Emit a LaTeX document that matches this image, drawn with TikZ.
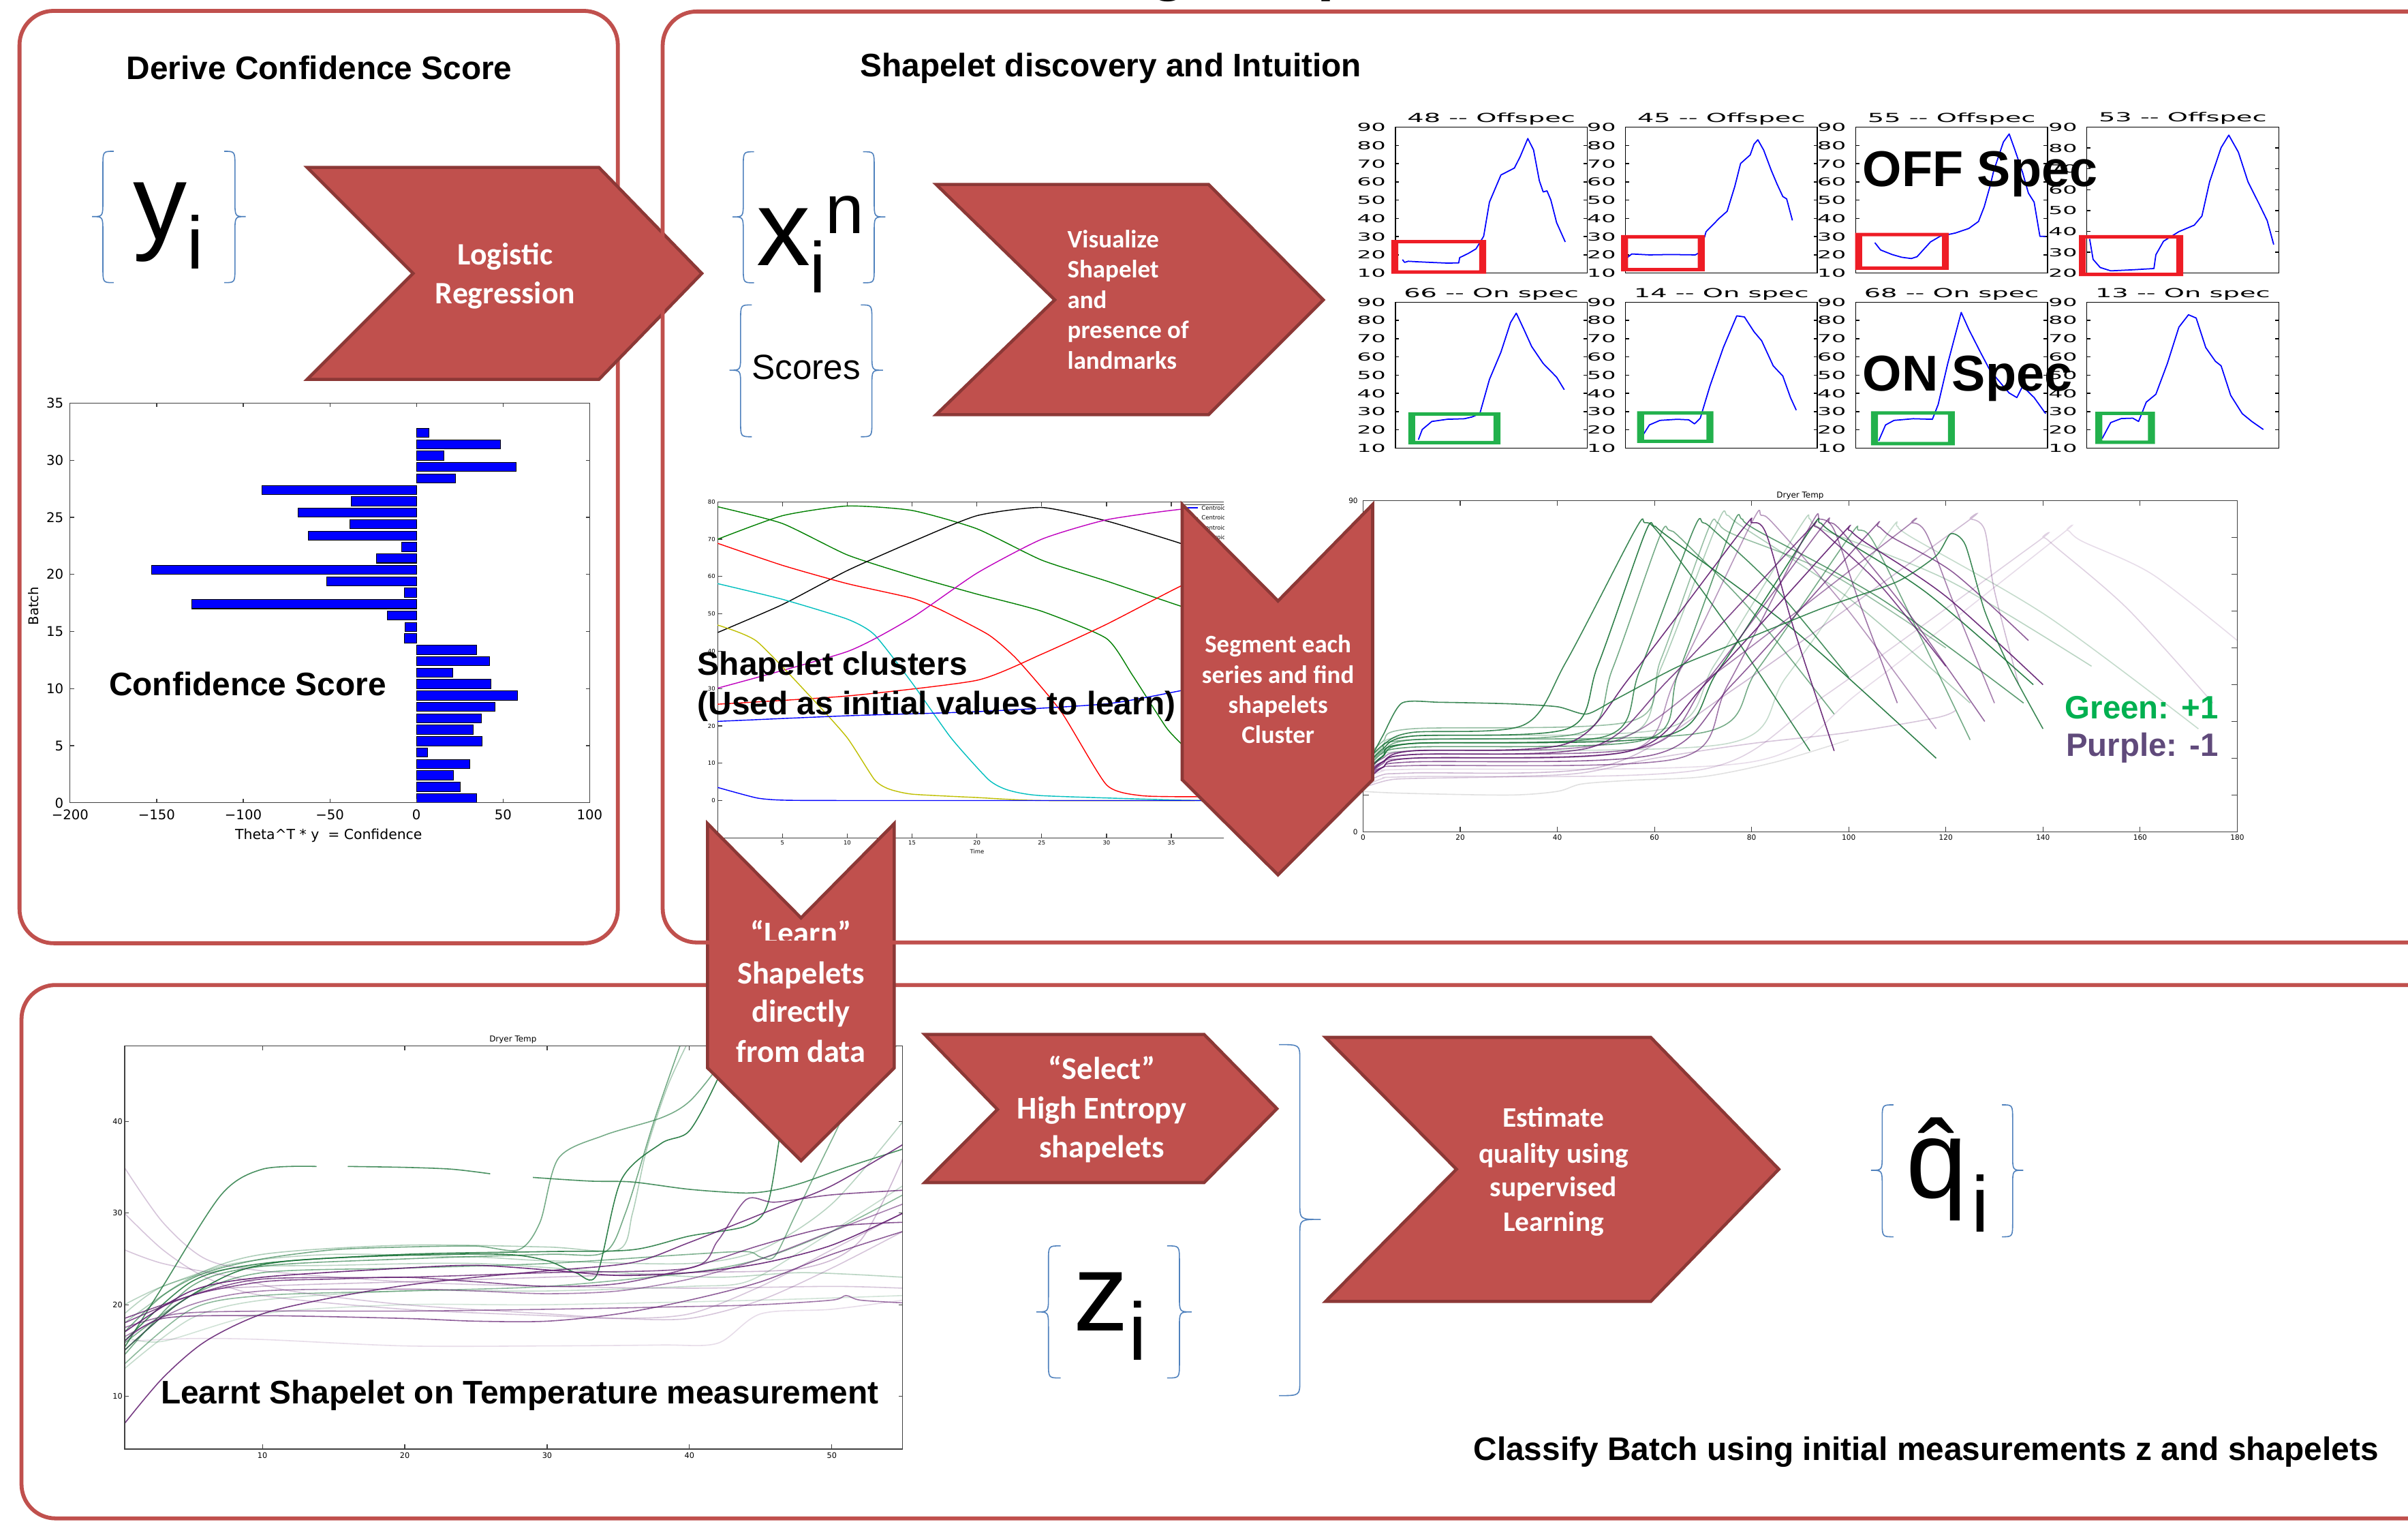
\documentclass[tikz,border=0pt]{standalone}
\usepackage{fontspec}
\setmainfont{Liberation Sans}
\newfontfamily\calib{Carlito}
\newfontfamily\dejav{DejaVu Sans}
\definecolor{panelred}{HTML}{C0504D}
\definecolor{chevline}{HTML}{8C3836}
\definecolor{bracebl}{HTML}{4F81BD}
\definecolor{grntxt}{HTML}{00B050}
\definecolor{purtxt}{HTML}{604A7B}
\definecolor{dg}{RGB}{25,115,55}
\definecolor{dp}{RGB}{95,25,110}
\definecolor{rectred}{HTML}{EE1C25}
\definecolor{rectgrn}{HTML}{22B14C}
\definecolor{mplg}{rgb}{0,0.5,0}
\definecolor{mplc}{rgb}{0,0.75,0.75}
\definecolor{mplm}{rgb}{0.75,0,0.75}
\definecolor{mply}{rgb}{0.75,0.75,0}
\newcommand\fsz[1]{\fontsize{#1pt}{#1pt}\selectfont}
\newcommand\CurlyB[5]{%
 \draw[bracestyle] (#2,#3) .. controls ({(#1+#2)/2},#3) .. ({(#1+#2)/2},{#3+10})
  -- ({(#1+#2)/2},{#4-10}) .. controls ({(#1+#2)/2},#4) .. (#1,#4)
  .. controls ({(#1+#2)/2},#4) .. ({(#1+#2)/2},{#4+10})
  -- ({(#1+#2)/2},{#5-10}) .. controls ({(#1+#2)/2},#5) .. (#2,#5);}
\newcommand\dcurve[9]{\draw[#1,opacity=#2,line width=0.45pt] plot[smooth,tension=0.5] coordinates {(0,#3) (4,{(#3+#4)/2+1}) (10,#4) (#5,{#4+2}) ({#5+(#6-#5)*0.35},{#4+2+(#7-#4)*0.3}) ({#6-2},{#7-2}) (#6,#7) ({#6+3},{#7-3}) ({(#6+#8)/2},{(#7+#9)/2+3}) (#8,#9)};}
\newcommand\frect[5]{\fill[#1,even odd rule] (#2,#3) rectangle (#4,#5) ({#2+4.5},{#3+2.2}) rectangle ({#4-4.5},{#5-2.2});}
\newcommand\spframe[3]{%
 \draw[spax] (0,#1) rectangle (1,90);
 \foreach \v in {#3} {\draw[spax] (0,\v) -- (0.02,\v); \draw[spax] (1,\v) -- (0.98,\v); \node[sptick] at (-0.045,\v) {\v};}
 \node[sptitle] at (0.5,92.5) {#2};}
\tikzset{
 panel/.style={draw=panelred, line width=1.65pt, rounded corners=5mm},
 chev/.style={fill=panelred, draw=chevline, line width=1.3pt, line join=miter},
 chevtxt/.style={text=white, inner sep=0pt, anchor=base},
 bracestyle/.style={draw=bracebl, line width=0.45pt},
 bigtxt/.style={inner sep=0pt, font=\bfseries\fsz{13.6}},
 plax/.style={draw=black!75, line width=0.35pt},
 barst/.style={fill=blue, draw=black, line width=0.3pt},
 btick/.style={inner sep=0pt, font=\dejav\fsz{5.6}},
 spax/.style={draw=black, line width=0.4pt},
 sptick/.style={font=\dejav\fsz{4.6}, anchor=east, inner sep=0pt, xscale=2.05},
 sptitle/.style={font=\dejav\fsz{5.2}, anchor=base, inner sep=0pt, xscale=2.1},
 spcurve/.style={draw=blue, line width=0.5pt, line join=round},
 cltick/.style={font=\dejav\fsz{2.4}, inner sep=0pt},
 dtick/.style={font=\dejav\fsz{3}, inner sep=0pt},
 dtitle/.style={font=\dejav\fsz{3.4}, inner sep=0pt, anchor=base},
 clcurve/.style={line width=0.4pt},
 lc/.style={line width=0.45pt}
}
\begin{document}
\begin{tikzpicture}[x=0.22538mm,y=-0.22538mm]
\useasboundingbox (0,0) rectangle (1568,1000.5);
\clip (0,0) rectangle (1568,1000.5);
\fill[white] (0,0) rectangle (1568,1000.5);

% panels 1 and 3
\draw[panel] (12.7,7.1) rectangle (402.3,614);
\draw[panel] (14,641.2) rectangle (1620,988.4);

% clipped poster title fragment
\node[anchor=base west, inner sep=0pt, font=\bfseries\fsz{25.7}] (postertitle) at (603.8,-7.4) {Learning Shapelets};

% titles
\node[bigtxt, anchor=base west] (t1) at (82.1,51.8) {Derive Confidence Score};
\node[bigtxt, anchor=base west] (t2) at (559.8,50) {Shapelet discovery and Intuition};

% ---------------- bar chart
\begin{scope}[shift={(271.2,522.6)}, x=0.25423mm, y=1.6755mm]
 \foreach \i/\v in {0/34.6,1/25.4,2/21.5,3/30.7,4/6.5,5/37.8,6/32.8,7/37.4,8/45.2,9/58.2,10/43,11/21,12/42.2,13/34.6,14/-7,15/-6.5,16/-17,17/-129.7,18/-7,19/-52,20/-153,21/-23,22/-8.5,23/-62.3,24/-38.5,25/-68.5,26/-37.6,27/-89.3,28/22.4,29/57.7,30/16,31/48.5,32/7}
   \draw[barst] (0,\i) rectangle (\v,{\i+0.8});
 \draw[plax] (-200,0) rectangle (100,35);
 \foreach \t in {-150,-100,-50,0,50} {\draw[plax] (\t,0) -- (\t,0.35); \draw[plax] (\t,35) -- (\t,34.65);}
 \foreach \v in {5,10,...,30} {\draw[plax] (-200,\v) -- (-197.7,\v); \draw[plax] (100,\v) -- (97.7,\v);}
 \foreach \t/\l in {-200/−200,-150/−150,-100/−100,-50/−50,0/0,50/50,100/100}
   \node[btick] (bx\t) at (\t,-1.02) {\l};
 \foreach \v in {0,5,...,35}
   \node[btick, anchor=east] (by\v) at (-203.5,\v) {\v};
\end{scope}
\node[btick, rotate=90] (batchlbl) at (22,394.5) {Batch};
\node[btick, font=\dejav\fsz{5.8}] (thetalbl) at (214,543.8) {Theta\^{}T * y \ = Confidence};
\node[bigtxt, anchor=base west] (confscore) at (70.8,452.9) {Confidence Score};

% ---------------- small plots
\begin{scope}[shift={(908.6,189.675)}, x=28.17mm, y=0.26764mm]
 \spframe{10}{48 -- Offspec}{10,20,...,90}
 \draw[spcurve] plot coordinates {(0.037,17.4) (0.048,15.9) (0.067,16.5) (0.12,16.2) (0.18,15.9) (0.27,15.5) (0.33,15.6) (0.335,18.5) (0.38,20.8) (0.42,23.3) (0.46,30.2) (0.49,48.9) (0.55,63.8) (0.62,67.6) (0.65,73.8) (0.69,83.8) (0.72,77.5) (0.75,60.7) (0.77,54.5) (0.79,55.1) (0.81,50.1) (0.84,37.7) (0.885,27.1)};
\end{scope}
\begin{scope}[shift={(1058.4,189.675)}, x=28.17mm, y=0.26764mm]
 \spframe{10}{45 -- Offspec}{10,20,...,90}
 \draw[spcurve] plot coordinates {(0,17.7) (0.033,20.5) (0.125,20) (0.235,20.2) (0.364,20) (0.39,21.5) (0.42,32.7) (0.49,40.2) (0.53,43.9) (0.57,57.6) (0.60,70.1) (0.65,74.8) (0.67,80.7) (0.69,83.1) (0.72,77.5) (0.76,66.3) (0.79,58.8) (0.82,52) (0.84,50.7) (0.87,38.9)};
\end{scope}
\begin{scope}[shift={(1208.3,189.675)}, x=28.17mm, y=0.26764mm]
 \spframe{10}{55 -- Offspec}{10,20,...,90}
 \draw[spcurve] plot coordinates {(0.1,26.7) (0.13,22.7) (0.19,20.2) (0.24,18.7) (0.29,18) (0.32,19) (0.39,27.1) (0.44,30.2) (0.52,32) (0.59,34.5) (0.64,38.3) (0.67,46.4) (0.7,57.6) (0.72,66.3) (0.77,81.9) (0.8,86.3) (0.83,77.5) (0.87,65.1) (0.9,53.9) (0.93,48.9) (0.96,30.2) (0.99,30.2)};
\end{scope}
\begin{scope}[shift={(1358.8,204.94)}, x=28.17mm, y=0.30587mm]
 \spframe{20}{53 -- Offspec}{20,30,...,90}
 \draw[spcurve] plot coordinates {(0.015,36.4) (0.033,26.6) (0.07,22.7) (0.125,21.1) (0.24,21.6) (0.35,22.2) (0.36,28.8) (0.4,35.3) (0.48,39.9) (0.56,43) (0.6,47.4) (0.64,63.8) (0.7,80.2) (0.74,86.2) (0.79,78) (0.84,63.8) (0.9,52.8) (0.94,45.2) (0.974,33.7)};
\end{scope}
\begin{scope}[shift={(908.6,303.575)}, x=28.17mm, y=0.26764mm]
 \spframe{10}{66 -- On spec}{10,20,...,90}
 \draw[spcurve] plot coordinates {(0.12,14.6) (0.14,20.2) (0.19,24.6) (0.27,25.8) (0.36,26.1) (0.4,27.1) (0.44,28.9) (0.49,47.6) (0.55,62.6) (0.6,78.8) (0.63,84) (0.67,75) (0.71,65.7) (0.77,56.4) (0.84,48.9) (0.88,42)};
\end{scope}
\begin{scope}[shift={(1058.4,303.575)}, x=28.17mm, y=0.26764mm]
 \spframe{10}{14 -- On spec}{10,20,...,90}
 \draw[spcurve] plot coordinates {(0.08,15.2) (0.125,22.7) (0.18,25.2) (0.27,25.8) (0.33,25.5) (0.36,23.3) (0.39,26.4) (0.44,43.9) (0.51,65.1) (0.58,82.5) (0.62,81.9) (0.67,73.8) (0.71,68.8) (0.77,55.1) (0.82,49.5) (0.86,37.7) (0.89,30.8)};
\end{scope}
\begin{scope}[shift={(1208.3,303.575)}, x=28.17mm, y=0.26764mm]
 \spframe{10}{68 -- On spec}{10,20,...,90}
 \draw[spcurve] plot coordinates {(0.12,14) (0.156,22.7) (0.2,25.2) (0.3,26.1) (0.4,25.8) (0.43,33.9) (0.48,56.4) (0.55,84.4) (0.59,75) (0.65,62.6) (0.7,52.6) (0.76,45.1) (0.8,40.2) (0.84,37.7) (0.87,43.9) (0.93,37.7) (0.99,28.9)};
\end{scope}
\begin{scope}[shift={(1358.8,303.575)}, x=28.17mm, y=0.26764mm]
 \spframe{10}{13 -- On spec}{10,20,...,90}
 \draw[spcurve] plot coordinates {(0.08,15.2) (0.125,24) (0.18,26.2) (0.24,26.4) (0.27,24.6) (0.31,35.2) (0.36,39.5) (0.42,56.4) (0.48,76.3) (0.53,83.1) (0.57,81.3) (0.62,65.1) (0.67,57.6) (0.7,55.1) (0.75,38.9) (0.81,28.9) (0.86,24.6) (0.92,20.2)};
\end{scope}
\frect{rectred}{906}{156.2}{967.7}{178.2}
\frect{rectred}{1055.6}{153}{1110}{176.6}
\frect{rectred}{1208}{151.6}{1269}{175.6}
\frect{rectred}{1353.7}{153}{1421.6}{179.7}
\frect{rectgrn}{917}{268.4}{977}{289.2}
\frect{rectgrn}{1066}{267.7}{1115.7}{288.4}
\frect{rectgrn}{1218.3}{267.7}{1272.9}{289.9}
\frect{rectgrn}{1364.4}{268}{1403.2}{289}
\node[anchor=base west, inner sep=0pt, font=\bfseries\fsz{21}] (offspec) at (1212.6,121.3) {OFF Spec};
\node[anchor=base west, inner sep=0pt, font=\bfseries\fsz{21}] (onspec) at (1212.6,254.4) {ON Spec};

% ---------------- cluster plot
\begin{scope}[shift={(467.3,521.1)}, x=1.9022mm, y=0.54767mm]
 \begin{scope}
  \clip (0,-10) rectangle (39.06,81);
  \draw[plax] (0,-10) rectangle (45,80);
  \foreach \t in {5,10,...,35} {\draw[plax] (\t,-10) -- (\t,-8.8); \draw[plax] (\t,80) -- (\t,78.8);}
  \foreach \v in {0,10,...,70} \draw[plax] (0,\v) -- (0.35,\v);
  \draw[clcurve, mplg] plot[smooth,tension=0.35] coordinates {(0,78.7) (5,74.2) (10,65.8) (15,60.2) (20,55.3) (25,50.7) (30,43.4) (32,33.6) (34.6,19.6) (35.9,14.7) (37.5,8) (39.5,3)};
  \draw[clcurve, mplg] plot[smooth,tension=0.35] coordinates {(0,70) (5,76.3) (10,78.9) (15,77.7) (20,72.8) (25,64.4) (30,58.8) (35.7,52.1) (39.5,48)};
  \draw[clcurve, black] plot[smooth,tension=0.35] coordinates {(0,45) (5,52.5) (10,61.6) (15,69.3) (20,76.3) (25,78.5) (30,74.9) (35.7,68.9) (39.5,64)};
  \draw[clcurve, red] plot[smooth,tension=0.35] coordinates {(0,68.9) (5,63) (10,58.1) (15,54.2) (17.2,51.1) (20.9,44.4) (23.1,37.8) (26.5,23.8) (30,4.2) (32.7,1.3) (37.2,1) (39.5,1)};
  \draw[clcurve, red] plot[smooth,tension=0.35] coordinates {(0,25.8) (10,28) (20,32.2) (25,39.2) (30,47.2) (35.7,57.4) (39.5,63)};
  \draw[clcurve, mplc] plot[smooth,tension=0.35] coordinates {(0,58.1) (5,53.9) (10,48.6) (12.1,44.4) (15,31.5) (18,16.8) (20.9,5.6) (22.4,2.8) (25,1.3) (35.7,0.1) (39.5,0)};
  \draw[clcurve, mplm] plot[smooth,tension=0.35] coordinates {(0,30.1) (10,39.9) (15,49) (20,60.9) (25,70) (30,75.2) (35.7,78) (39.5,78.5)};
  \draw[clcurve, mply] plot[smooth,tension=0.35] coordinates {(0,47) (3,42.7) (7.3,27.3) (10,16.8) (12.1,5.6) (13.2,3.1) (15,1.7) (20,0.8) (25,0) (39.5,0)};
  \draw[clcurve, blue] plot[smooth,tension=0.35] coordinates {(0,3.5) (3,0.7) (5,0.1) (10,0) (39.5,0)};
  \draw[clcurve, blue] plot[smooth,tension=0.35] coordinates {(0,21.2) (10,22.7) (20,23.8) (30,25.9) (35.7,29.4) (39.5,32)};
  \draw[plax, fill=white] (35.78,79.3) rectangle (45,51.5);
  \foreach \c/\yy in {blue/78.4, mplg/75.8, red/73.1, mplc/70.5, mplm/67.9, mply/65.3, black/62.7} {
    \draw[clcurve, \c] (35.95,\yy) -- (37.05,\yy);
    \node[cltick, anchor=west] at (37.3,\yy) {Centroid};}
 \end{scope}
 \foreach \v in {0,10,...,80} \node[cltick, anchor=east] (cly\v) at (-0.15,\v) {\v};
 \node[cltick, anchor=east] (clym10) at (-0.15,-10) {-10};
 \foreach \t in {5,10,...,35} \node[cltick] (clx\t) at (\t,-11.3) {\t};
 \node[cltick] (cltime) at (20.02,-13.7) {Time};
\end{scope}
\node[bigtxt, anchor=base west] (clus1) at (454,439.6) {Shapelet clusters};
\node[bigtxt, anchor=base west] (clus2) at (454,465.4) {(Used as initial values to learn)};

% ---------------- dryer temp (right)
\begin{scope}[shift={(887.6,541.5)}, x=0.7127mm, y=0.5399mm]
 \begin{scope}
  \clip (0,0) rectangle (180,90);
  \dcurve{dg}{0.85}{18}{27}{33}{58}{84}{92}{22}
  \dcurve{dg}{0.9}{17}{26}{42}{60}{83}{118}{20}
  \dcurve{dg}{0.6}{16}{25}{45}{63}{82}{97}{32}
  \dcurve{dg}{0.8}{15}{24}{50}{70}{84}{100}{42}
  \dcurve{dg}{0.45}{19}{28}{55}{73}{84}{120}{50}
  \dcurve{dg}{0.7}{16}{23}{58}{78}{85}{136}{35}
  \dcurve{dg}{0.9}{15}{24}{62}{94}{84}{138}{40}
  \dcurve{dg}{0.6}{17}{25}{70}{102}{82}{125}{25}
  \dcurve{dg}{0.3}{18}{26}{62}{92}{85}{150}{45}
  \dcurve{dg}{0.25}{16}{22}{75}{110}{83}{172}{28}
  \dcurve{dg}{0.35}{17}{24}{54}{75}{86}{125}{35}
  \dcurve{dp}{0.9}{14}{22}{42}{80}{84}{97}{22}
  \dcurve{dp}{0.8}{15}{21}{47}{93}{83}{120}{45}
  \dcurve{dp}{0.9}{13}{20}{55}{100}{82}{140}{40}
  \dcurve{dp}{0.7}{14}{19}{60}{106}{83}{137}{52}
  \dcurve{dp}{0.55}{16}{22}{50}{113}{84}{130}{35}
  \dcurve{dp}{0.6}{15}{18}{65}{94}{85}{110}{35}
  \dcurve{dp}{0.3}{13}{16}{50}{125}{85}{135}{40}
  \dcurve{dp}{0.2}{12}{15}{70}{140}{80}{175}{35}
  \dcurve{dp}{0.45}{16}{20}{55}{82}{86}{118}{28}
  \dcurve{dp}{0.15}{14}{17}{80}{145}{82}{180}{52}
  \dcurve{dp}{0.65}{14}{21}{58}{96}{84}{128}{30}
  \draw[dg, opacity=0.85, line width=0.45pt] plot[smooth,tension=0.4] coordinates {(0,16) (4,26) (8,35) (16,35.2) (30,34.8) (40,34) (46,32) (52,36) (65,45) (80,53) (95,61) (110,68) (118,75) (121,81) (124,78) (128,60) (133,45) (140,28)};
  \draw[dp, opacity=0.25, line width=0.45pt] plot[smooth,tension=0.5] coordinates {(0,12) (5,14) (10,14.5) (30,15) (45,16) (60,20) (80,24) (100,27) (118,31) (122,33)};
  \draw[black, opacity=0.12, line width=0.45pt] plot[smooth,tension=0.5] coordinates {(0,11) (8,10.5) (30,10) (40,11) (45,13) (55,14) (70,15) (85,19) (100,25)};
 \end{scope}
 \draw[plax] (0,0) rectangle (180,90);
 \foreach \t in {20,40,...,160} {\draw[plax] (\t,0) -- (\t,1.3); \draw[plax] (\t,90) -- (\t,88.7);}
 \foreach \v in {10,20,...,80} {\draw[plax] (0,\v) -- (1.2,\v); \draw[plax] (180,\v) -- (178.8,\v);}
 \foreach \t in {0,20,...,180} \node[dtick] (drx\t) at (\t,-1.6) {\t};
 \foreach \v in {0,10,...,90} \node[dtick, anchor=east] (dry\v) at (-1,\v) {\v};
 \node[dtitle] (dryerR) at (90,90.8) {Dryer Temp};
\end{scope}
\node[anchor=base east, inner sep=0pt, font=\bfseries\fsz{13.5}, text=grntxt] (greenlbl) at (1444.7,467.7) {Green: +1};
\node[anchor=base east, inner sep=0pt, font=\bfseries\fsz{13.5}, text=purtxt] (purplelbl) at (1444.7,492.3) {Purple: -1};

% ---------------- dryer temp (lower left, learnt shapelet)
\begin{scope}[shift={(78.2,968.5)}, x=2.089mm, y=1.3433mm]
 \begin{scope}
  \clip (0.32,4.23) rectangle (54.97,48.27);
  \draw[lc, dg, opacity=0.8] plot[smooth,tension=0.5] coordinates {(0.3,15.3) (3,22) (7.1,32) (10,34.8) (13.8,35.1)};
  \draw[lc, dg, opacity=0.8] plot[smooth,tension=0.5] coordinates {(16,35.1) (20,35) (23.3,34.8) (26,34.3)};
  \draw[lc, dg, opacity=0.8] plot[smooth,tension=0.5] coordinates {(29,33.9) (33,33.5) (36,33.4) (40,32.6) (43.9,32.2) (45.9,32.5) (47.9,33.3) (51,35) (55,37)};
  \draw[lc, dg, opacity=0.6] plot[smooth,tension=0.5] coordinates {(0.3,17) (3,21) (6,23.5) (10,25) (15,26) (20,26.3) (25,26.4) (28,26) (29.5,29) (30.8,36) (34,38.5) (38,40.4) (40,42.2) (42,46) (43,49)};
  \draw[lc, dg, opacity=0.9] plot[smooth,tension=0.5] coordinates {(0.3,15) (4,20) (8,23.5) (12,24.8) (20,25.4) (27,25.5) (30,24.8) (32,23.5) (33.5,23.3) (35.2,33.6) (38,37.6) (40,39) (42,44.7) (43,49)};
  \draw[lc, dg, opacity=0.85] plot[smooth,tension=0.5] coordinates {(0.3,16) (5,22.5) (10,24.5) (20,25.5) (30,25.8) (36,26) (40,27.5) (44,28.6) (45.5,31) (46.5,40) (47.5,49)};
  \draw[lc, dg, opacity=0.35] plot[smooth,tension=0.5] coordinates {(0.3,18) (5,23) (10,25.5) (20,26.5) (30,26.3) (35,26) (36,30) (37,37) (38.5,44) (40,49)};
  \draw[lc, dg, opacity=0.6] plot[smooth,tension=0.5] coordinates {(0.3,14.5) (5,22) (10,24.2) (20,25) (30,25.5) (34,25.7) (35.5,30) (37.5,40) (39.5,49)};
  \draw[lc, dg, opacity=0.55] plot[smooth,tension=0.5] coordinates {(0.3,15.8) (5,21) (10,23.5) (20,24) (30,24.5) (40,25.5) (44,25.8) (45,25.2) (46,25.3) (47.5,30) (50,38) (52,44) (55,49)};
  \draw[lc, dg, opacity=0.3] plot[smooth,tension=0.5] coordinates {(0.3,19) (3,22) (8,24) (15,24.3) (25,24.5) (35,23.5) (42,23) (48,23.5) (55,23)};
  \draw[lc, dg, opacity=0.25] plot[smooth,tension=0.5] coordinates {(0.3,13) (5,18.5) (10,20.5) (20,21.5) (30,21.5) (40,22) (44,22.5) (48,26) (52,30) (55,33)};
  \draw[lc, dg, opacity=0.5] plot[smooth,tension=0.5] coordinates {(0.3,13.5) (5,19.5) (10,21) (20,21.5) (30,22) (40,23.5) (45,25) (50,28) (55,32)};
  \draw[lc, dg, opacity=0.2] plot[smooth,tension=0.5] coordinates {(0.3,16.5) (3,16) (10,19) (20,20) (30,20) (45,20.5) (55,21)};
  \draw[lc, dg, opacity=0.3] plot[smooth,tension=0.5] coordinates {(0.3,20) (3,22) (8,24.5) (15,25.5) (25,25.2) (30,24.8) (40,24.5) (45,26) (50,31) (55,40)};
  \draw[lc, dp, opacity=0.85] plot[smooth,tension=0.5] coordinates {(0.3,7) (3,12) (6,16) (10,19) (15,20.8) (20,22.1) (25,23) (30,23.7) (36,24.6) (40,26.8) (46,30.5) (50,33) (55,37.5)};
  \draw[lc, dp, opacity=0.9] plot[smooth,tension=0.5] coordinates {(0.3,17) (5,21.5) (10,23) (20,24) (25,24.3) (30,23.8) (35,23.2) (40,23.5) (45,24.5) (50,26.5) (55,30)};
  \draw[lc, dp, opacity=0.7] plot[smooth,tension=0.5] coordinates {(0.3,16) (3,18.5) (10,18.8) (20,18.5) (25,18.2) (30,18.2) (35,19) (40,20.5) (45,22.5) (50,25.5) (55,28)};
  \draw[lc, dp, opacity=0.75] plot[smooth,tension=0.5] coordinates {(0.3,18) (5,21) (10,22.5) (15,22.8) (20,23) (25,22.5) (30,22) (35,22.3) (40,24) (45,26.5) (50,28.5) (55,29)};
  \draw[lc, dp, opacity=0.6] plot[smooth,tension=0.5] coordinates {(0.3,17.5) (4,19) (10,19.3) (20,19.3) (30,19.5) (40,19.8) (45,20) (50,20.5) (51,21) (52,20.5) (55,20.2)};
  \draw[lc, dp, opacity=0.25] plot[smooth,tension=0.5] coordinates {(0.3,35) (3,29) (6,25) (10,23.7) (20,22.5) (30,22) (40,21.8) (50,22) (55,21.8)};
  \draw[lc, dp, opacity=0.25] plot[smooth,tension=0.5] coordinates {(0.3,26) (3,24.5) (8,23) (12,21.5) (20,20) (30,19) (35,18.5) (40,18.5) (45,20.5) (50,24) (55,28)};
  \draw[lc, dp, opacity=0.75] plot[smooth,tension=0.5] coordinates {(0.3,18.5) (5,21) (10,22.8) (20,23) (30,23.5) (40,24) (42,27) (44,31.5) (46,31.2) (50,32) (55,32.5)};
  \draw[lc, dp, opacity=0.15] plot[smooth,tension=0.5] coordinates {(0.3,16) (5,16.3) (10,16.2) (20,15.5) (30,15.5) (38,15.6) (42,15.8) (45,19) (50,19.5) (55,20.5)};
  \draw[lc, dp, opacity=0.25] plot[smooth,tension=0.5] coordinates {(0.3,30) (3,26) (6,23) (10,21) (20,19.5) (30,18.8) (35,18.5) (40,19) (45,22) (50,26) (55,30)};
  \draw[lc, dp, opacity=0.55] plot[smooth,tension=0.5] coordinates {(0.3,16.5) (5,20) (10,21.5) (20,21.7) (25,21.5) (30,21.2) (35,21.5) (40,22.8) (45,25) (50,28) (55,31)};
  \draw[lc, dp, opacity=0.3] plot[smooth,tension=0.5] coordinates {(0.3,15) (5,21) (10,22) (20,22.5) (30,23) (40,23.5) (48,24) (52,27) (55,36)};
 \end{scope}
 \draw[plax] (0.32,4.23) rectangle (54.97,48.27);
 \foreach \t in {10,20,...,50} {\draw[plax] (\t,4.23) -- (\t,4.75); \draw[plax] (\t,48.27) -- (\t,47.75);}
 \foreach \v in {10,20,...,40} {\draw[plax] (0.32,\v) -- (0.6,\v); \draw[plax] (54.97,\v) -- (54.69,\v);}
 \foreach \t in {10,20,...,50} \node[dtick, font=\dejav\fsz{3.2}] (llx\t) at (\t,3.55) {\t};
 \foreach \v in {10,20,...,40} \node[dtick, font=\dejav\fsz{3.2}, anchor=east] (lly\v) at (0.2,\v) {\v};
 \node[dtitle] (dryerL) at (27.6,48.7) {Dryer Temp};
\end{scope}
\node[bigtxt, anchor=base] (learnt) at (338.5,913.9) {Learnt Shapelet on Temperature measurement};

% ---------------- braces and symbols
\CurlyB{60}{74}{98.5}{141}{184}
\CurlyB{160}{146}{98.5}{141}{184}
\node[anchor=base west, inner sep=0pt, font=\fsz{45}] (ysym) at (86.5,156) {y};
\node[anchor=base west, inner sep=0pt, font=\fsz{31}] (ysub) at (121.3,174.9) {i};

\CurlyB{477}{491}{98.8}{141.2}{184.1}
\CurlyB{576.5}{562}{98.8}{141.2}{184.1}
\node[anchor=base west, inner sep=0pt, font=\fsz{45}] (xsym) at (492.3,173) {x};
\node[anchor=base west, inner sep=0pt, font=\fsz{30}] (xsub) at (527.1,190.5) {i};
\node[anchor=base west, inner sep=0pt, font=\fsz{29}] (xsup) at (537.4,152) {n};

\CurlyB{475}{489.5}{198.5}{241}{284.3}
\CurlyB{575}{560.5}{198.5}{241}{284.3}
\node[anchor=base west, inner sep=0pt, font=\fsz{14.6}] (scores) at (489.2,247) {Scores};

\CurlyB{674.8}{690.6}{811}{854}{897}
\CurlyB{776}{760}{811}{854}{897}
\node[anchor=base west, inner sep=0pt, font=\fsz{46}] (zsym) at (698.6,866.5) {z};
\node[anchor=base west, inner sep=0pt, font=\fsz{34}] (zsub) at (734.5,885.2) {i};

\CurlyB{1218.3}{1232.9}{719.2}{761.8}{805.1}
\CurlyB{1317.5}{1303.6}{719.2}{761.8}{805.1}
\node[anchor=base west, inner sep=0pt, font=\fsz{46}] (qsym) at (1240.7,780) {\accent"02C6 q};
\node[anchor=base west, inner sep=0pt, font=\fsz{33}] (qsub) at (1283.5,802) {i};

\CurlyB{860}{832.8}{680}{793.8}{908.5}

% ---------------- chevrons
\draw[chev] (200,109) -- (390,109) -- (457,178) -- (390,247) -- (200,247) -- (269,178) -- cycle;
\node[chevtxt, font=\calib\bfseries\fsz{13}] (lr1) at (329,172.3) {Logistic};
\node[chevtxt, font=\calib\bfseries\fsz{13}] (lr2) at (329,197.8) {Regression};

\draw[chev] (609.6,120.1) -- (787,120.1) -- (861.7,195.2) -- (787,269.9) -- (609.6,269.9) -- (686.8,195.2) -- cycle;
\node[chevtxt, anchor=base west, font=\calib\bfseries\fsz{10.5}] (vz1) at (694.8,161.1) {Visualize};
\node[chevtxt, anchor=base west, font=\calib\bfseries\fsz{10.5}] (vz2) at (694.8,180.7) {Shapelet};
\node[chevtxt, anchor=base west, font=\calib\bfseries\fsz{10.5}] (vz3) at (694.8,200.7) {and};
\node[chevtxt, anchor=base west, font=\calib\bfseries\fsz{10.5}] (vz4) at (694.8,220.4) {presence of};
\node[chevtxt, anchor=base west, font=\calib\bfseries\fsz{10.5}] (vz5) at (694.8,240.3) {landmarks};

\draw[chev] (769.8,328.4) -- (832.2,391.2) -- (893.8,328.4) -- (893.8,507.6) -- (832.2,569.5) -- (769.8,507.6) -- cycle;
\node[chevtxt, font=\calib\bfseries\fsz{10.5}] (sg1) at (832.2,424.7) {Segment each};
\node[chevtxt, font=\calib\bfseries\fsz{10.5}] (sg2) at (832.2,444.7) {series and find};
\node[chevtxt, font=\calib\bfseries\fsz{10.5}] (sg3) at (832.2,464.2) {shapelets};
\node[chevtxt, font=\calib\bfseries\fsz{10.5}] (sg4) at (832.2,483.8) {Cluster};

\draw[chev] (460.7,536.1) -- (521.6,597.5) -- (582.3,536.1) -- (582.3,695.1) -- (521.6,755.6) -- (460.7,695.1) -- cycle;
\node[chevtxt, font=\calib\bfseries\fsz{13.2}] (ln1) at (521.6,614.5) {“Learn”};
\node[chevtxt, font=\calib\bfseries\fsz{13.2}] (ln2) at (521.6,640.4) {Shapelets};
\node[chevtxt, font=\calib\bfseries\fsz{13.2}] (ln3) at (521.6,665.5) {directly};
\node[chevtxt, font=\calib\bfseries\fsz{13.2}] (ln4) at (521.6,691.4) {from data};

\draw[chev] (602.1,673.4) -- (784.1,673.4) -- (831.5,721.7) -- (784.1,769.8) -- (602.1,769.8) -- (649.5,722.2) -- cycle;
\node[chevtxt, font=\calib\bfseries\fsz{13.2}] (sl1) at (717.5,702.8) {“Select”};
\node[chevtxt, font=\calib\bfseries\fsz{13.2}] (sl2) at (717.5,728.2) {High Entropy};
\node[chevtxt, font=\calib\bfseries\fsz{13.2}] (sl3) at (717.5,753.4) {shapelets};

\draw[chev] (863.1,675.3) -- (1074.9,675.3) -- (1158.3,761.1) -- (1074.9,847.2) -- (863.1,847.2) -- (948.4,761.1) -- cycle;
\node[chevtxt, font=\calib\bfseries\fsz{11.8}] (es1) at (1011.6,733.7) {Estimate};
\node[chevtxt, font=\calib\bfseries\fsz{11.8}] (es2) at (1011.6,757) {quality using};
\node[chevtxt, font=\calib\bfseries\fsz{11.8}] (es3) at (1011.6,778.7) {supervised};
\node[chevtxt, font=\calib\bfseries\fsz{11.8}] (es4) at (1011.6,801.5) {Learning};

% panel 2 on top
\draw[panel] (431.5,7.5) rectangle (1620,613.5);

\node[bigtxt, anchor=base west] (classify) at (959.2,950.6) {Classify Batch using initial measurements z and shapelets};
\end{tikzpicture}
\end{document}
